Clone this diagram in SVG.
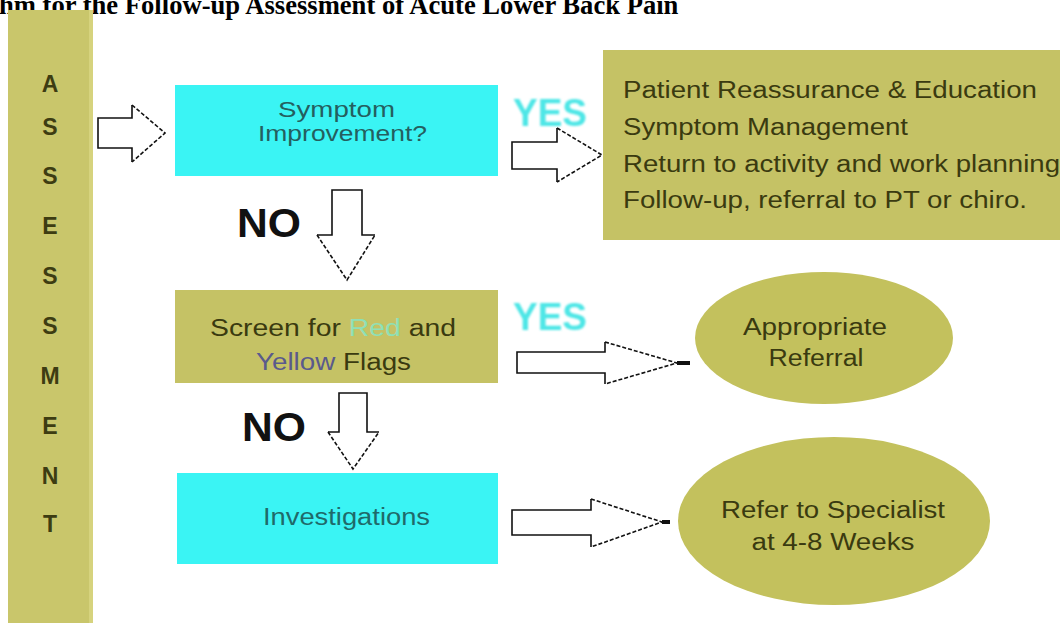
<svg xmlns="http://www.w3.org/2000/svg" width="1060" height="623" viewBox="0 0 1060 623">
<defs>
<style>
.olive{fill:#c5c265}
.cyan{fill:#3af4f4}
.t{font-family:"Liberation Sans",Arial,sans-serif;font-size:23px;fill:#3a3a10}
.tt{font-family:"Liberation Sans",Arial,sans-serif;font-size:22px;fill:#245f5f}
.let{font-family:"Liberation Sans",Arial,sans-serif;font-size:23px;font-weight:bold;fill:#3d3c12;text-anchor:middle}
.yes{font-family:"Liberation Sans",Arial,sans-serif;font-size:38px;font-weight:bold;fill:#4ee6e6}
.no{font-family:"Liberation Sans",Arial,sans-serif;font-size:40px;font-weight:bold;fill:#111}
.fillw{fill:#fff;stroke:none}
.solid{fill:none;stroke:#111;stroke-width:1.6}
.dash{fill:none;stroke:#111;stroke-width:1.6;stroke-dasharray:4 2}
</style>
<filter id="soft" x="-10%" y="-20%" width="120%" height="140%"><feGaussianBlur stdDeviation="0.9"/></filter>
</defs>
<rect width="1060" height="623" fill="#fff"/>

<text x="-1" y="14" style="font-family:'Liberation Serif','Times New Roman',serif;font-size:26.6px;font-weight:bold;fill:#000">hm for the Follow-up Assessment of Acute Lower Back Pain</text>

<g id="assessment-bar">
<rect x="8" y="10" width="85" height="613" style="fill:#c9c66b"/>
<rect x="89" y="10" width="4" height="613" style="fill:#d6d37e"/>
<text class="let" x="50" y="92">A</text>
<text class="let" x="50" y="135">S</text>
<text class="let" x="50" y="184">S</text>
<text class="let" x="50" y="234">E</text>
<text class="let" x="50" y="284">S</text>
<text class="let" x="50" y="334">S</text>
<text class="let" x="50" y="384">M</text>
<text class="let" x="50" y="434">E</text>
<text class="let" x="50" y="484">N</text>
<text class="let" x="50" y="532">T</text>
</g>

<g id="symptom-improvement">
<rect class="cyan" x="175" y="85" width="323" height="91"/>
<text class="tt" x="278" y="117" textLength="117" lengthAdjust="spacingAndGlyphs">Symptom</text>
<text class="tt" x="258" y="141" textLength="169" lengthAdjust="spacingAndGlyphs">Improvement?</text>
</g>

<g id="management">
<rect class="olive" x="603" y="50" width="460" height="190"/>
<text class="t" x="623" y="98" textLength="414" lengthAdjust="spacingAndGlyphs">Patient Reassurance &amp; Education</text>
<text class="t" x="623" y="135" textLength="285" lengthAdjust="spacingAndGlyphs">Symptom Management</text>
<text class="t" x="623" y="172" textLength="437" lengthAdjust="spacingAndGlyphs">Return to activity and work planning</text>
<text class="t" x="623" y="208" textLength="404" lengthAdjust="spacingAndGlyphs">Follow-up, referral to PT or chiro.</text>
</g>

<g id="screen-flags">
<rect class="olive" x="175" y="290" width="323" height="93"/>
<text class="t" x="210" y="336" textLength="246" lengthAdjust="spacingAndGlyphs">Screen for <tspan style="fill:#8fe0b6">Red</tspan> and</text>
<text class="t" x="256" y="370" textLength="155" lengthAdjust="spacingAndGlyphs"><tspan style="fill:#5a5a8c">Yellow</tspan> Flags</text>
</g>

<g id="appropriate-referral">
<ellipse cx="824" cy="338" rx="129" ry="66" style="fill:#c3c15d"/>
<text class="t" x="815" y="335" text-anchor="middle" textLength="144" lengthAdjust="spacingAndGlyphs">Appropriate</text>
<text class="t" x="816" y="366" text-anchor="middle" textLength="95" lengthAdjust="spacingAndGlyphs">Referral</text>
</g>

<g id="investigations">
<rect class="cyan" x="177" y="473" width="321" height="91"/>
<text class="t" x="263" y="525" textLength="167" lengthAdjust="spacingAndGlyphs" style="fill:#1f6a6a">Investigations</text>
</g>

<g id="refer-specialist">
<ellipse cx="834" cy="521" rx="156" ry="84" style="fill:#c3c15d"/>
<text class="t" x="833" y="518" text-anchor="middle" textLength="224" lengthAdjust="spacingAndGlyphs">Refer to Specialist</text>
<text class="t" x="833" y="550" text-anchor="middle" textLength="163" lengthAdjust="spacingAndGlyphs">at 4-8 Weeks</text>
</g>

<g id="labels">
<text class="yes" x="513" y="126" textLength="74" lengthAdjust="spacingAndGlyphs" filter="url(#soft)">YES</text>
<text class="yes" x="513" y="330" textLength="74" lengthAdjust="spacingAndGlyphs" filter="url(#soft)">YES</text>
<text class="no" x="237" y="237" textLength="64" lengthAdjust="spacingAndGlyphs">NO</text>
<text class="no" x="242" y="441" textLength="64" lengthAdjust="spacingAndGlyphs">NO</text>
</g>

<g id="connectors">
<polygon class="fillw" points="98,118 132,118 132,105 165,133 132,162 132,148 98,148"/>
<path class="solid" d="M132,105 L132,118 L98,118 L98,148 L132,148 L132,162"/>
<path class="dash" d="M132,105 L165,133 L132,162"/>
<polygon class="fillw" points="512,142 557,142 557,128 602,155 557,182 557,169 512,169"/>
<path class="solid" d="M557,128 L557,142 L512,142 L512,169 L557,169 L557,182"/>
<path class="dash" d="M557,128 L602,155 L557,182"/>
<polygon class="fillw" points="332,190 362,190 362,235 375,235 347,280 317,235 332,235"/>
<path class="solid" d="M317,235 L332,235 L332,190 L362,190 L362,235 L375,235"/>
<path class="dash" d="M317,235 L347,280 L375,235"/>
<polygon class="fillw" points="517,352 605,352 605,342 677,363 605,384 605,373 517,373"/>
<path class="solid" d="M605,342 L605,352 L517,352 L517,373 L605,373 L605,384"/>
<path class="dash" d="M605,342 L677,363 L605,384"/>
<rect x="677" y="361" width="13" height="4" fill="#111"/>
<polygon class="fillw" points="339,393 367,393 367,432 379,432 353,469 328,432 339,432"/>
<path class="solid" d="M328,432 L339,432 L339,393 L367,393 L367,432 L379,432"/>
<path class="dash" d="M328,432 L353,469 L379,432"/>
<polygon class="fillw" points="512,510 591,510 591,499 662,522 591,547 591,535 512,535"/>
<path class="solid" d="M591,499 L591,510 L512,510 L512,535 L591,535 L591,547"/>
<path class="dash" d="M591,499 L662,522 L591,547"/>
<rect x="662" y="520" width="8" height="4" fill="#111"/>
</g>
</svg>
